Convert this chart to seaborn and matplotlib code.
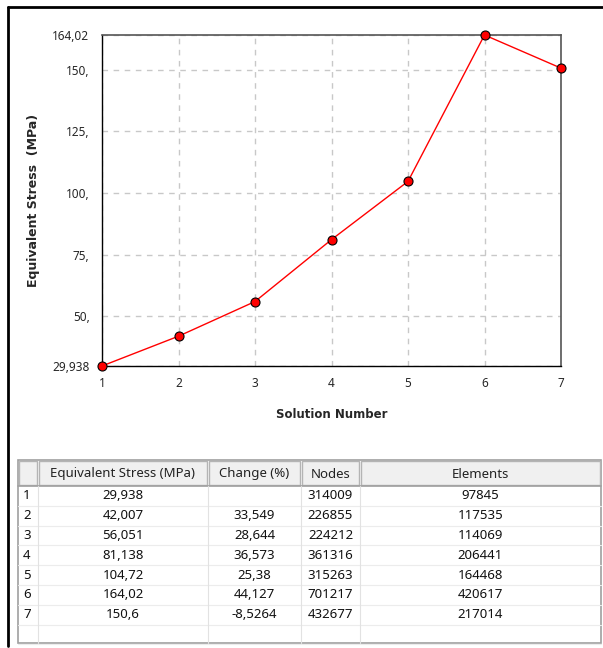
import matplotlib
matplotlib.use("Agg")
import matplotlib.pyplot as plt
import seaborn as sns
import pandas as pd
from matplotlib.patches import Rectangle
from matplotlib.lines import Line2D

# data
solution = [1, 2, 3, 4, 5, 6, 7]
stress = [29.938, 42.007, 56.051, 81.138, 104.72, 164.02, 150.6]
stress_txt = ["29,938", "42,007", "56,051", "81,138", "104,72", "164,02", "150,6"]
change_txt = ["", "33,549", "28,644", "36,573", "25,38", "44,127", "-8,5264"]
nodes = [314009, 226855, 224212, 361316, 315263, 701217, 432677]
elements = [97845, 117535, 114069, 206441, 164468, 420617, 217014]
header = ["", "Equivalent Stress (MPa)", "Change (%)", "Nodes", "Elements"]
ytick_vals = [29.938, 50, 75, 100, 125, 150, 164.02]
ytick_txt = ["29,938", "50,", "75,", "100,", "125,", "150,", "164,02"]

sns.set_style("white")
plt.rcParams["font.family"] = ["Noto Sans", "DejaVu Sans"]

W, H = 603, 648
fig = plt.figure(figsize=(W / 100, H / 100), dpi=100)


def fx(px):
    return px / W


def fy(py):
    return 1 - py / H


# outer frame lines
fig.add_artist(Line2D([fx(8), fx(8)], [fy(7), fy(646)], color="black", lw=2))
fig.add_artist(Line2D([fx(8), 1], [fy(7), fy(7)], color="black", lw=2))

# chart
ax = fig.add_axes([fx(102), fy(366), fx(561) - fx(102), fy(35) - fy(366)])
df = pd.DataFrame({"Solution Number": solution, "Stress": stress})
sns.lineplot(data=df, x="Solution Number", y="Stress", ax=ax, color="#ff0000",
             lw=1, marker="o", markersize=6.5, markerfacecolor="#ff0000",
             markeredgecolor="black", markeredgewidth=0.8, clip_on=False, zorder=5)
ax.set_xlim(1, 7)
ax.set_ylim(ytick_vals[0], ytick_vals[-1])
ax.set_xticks(solution)
ax.set_xticklabels([str(s) for s in solution], fontsize=8.5)
ax.set_yticks(ytick_vals)
ax.set_yticklabels(ytick_txt, fontsize=8.5)
ax.tick_params(axis="x", length=0, pad=8)
ax.tick_params(axis="y", length=6, color="#a0a0a0", width=1, pad=3)
ax.grid(True, color="#c8c8c8", lw=1, ls=(0, (4, 4)))
for s in ["left", "bottom"]:
    ax.spines[s].set_color("black")
    ax.spines[s].set_linewidth(1)
for s in ["top", "right"]:
    ax.spines[s].set_color("#555555")
    ax.spines[s].set_linewidth(1.2)
ax.set_xlabel("Solution Number", fontsize=8.5, fontweight="bold", labelpad=13,
              family="DejaVu Sans")
ax.set_ylabel("Equivalent Stress  (MPa)", fontsize=9, fontweight="bold", labelpad=9,
              family="DejaVu Sans")

# table
tx = fig.add_axes([0, 0, 1, 1])
tx.set_xlim(0, W)
tx.set_ylim(H, 0)
tx.axis("off")

col_edges = [18, 38, 208, 301, 360, 601]
top, head_h, row_h = 460, 26, 19.8
n_rows = len(solution) + 1
bottom = 643
fs = 9.5

tx.add_patch(Rectangle((col_edges[0], top), col_edges[-1] - col_edges[0], bottom - top,
                       facecolor="white", edgecolor="#a0a0a0", lw=1.2))
for i in range(len(col_edges) - 1):
    x0, x1 = col_edges[i], col_edges[i + 1]
    tx.add_patch(Rectangle((x0 + 1, top + 1), x1 - x0 - 2, head_h - 2,
                           facecolor="#f0f0f0", edgecolor="#b4b4b4", lw=1))
    tx.text((x0 + x1) / 2, top + head_h / 2 + 1, header[i], ha="center", va="center",
            fontsize=fs, color="#222222")
tx.plot([col_edges[0], col_edges[-1]], [top + head_h, top + head_h], color="#a0a0a0", lw=1.2)

for r in range(n_rows):
    y0 = top + head_h + r * row_h
    y1 = y0 + row_h
    tx.plot([col_edges[0], col_edges[-1]], [y1, y1], color="#ececec", lw=0.8)
for x in col_edges[1:-1]:
    tx.plot([x, x], [top + head_h, bottom], color="#e2e2e2", lw=0.8)

for r in range(len(solution)):
    yc = top + head_h + r * row_h + row_h / 2
    vals = [str(solution[r]), stress_txt[r], change_txt[r], str(nodes[r]), str(elements[r])]
    for i, v in enumerate(vals):
        if i == 0:
            tx.text(col_edges[0] + 5, yc, v, ha="left", va="center", fontsize=fs, color="#111111")
        else:
            tx.text((col_edges[i] + col_edges[i + 1]) / 2, yc, v, ha="center", va="center",
                    fontsize=fs, color="#111111")

fig.savefig("out.png", dpi=100)
